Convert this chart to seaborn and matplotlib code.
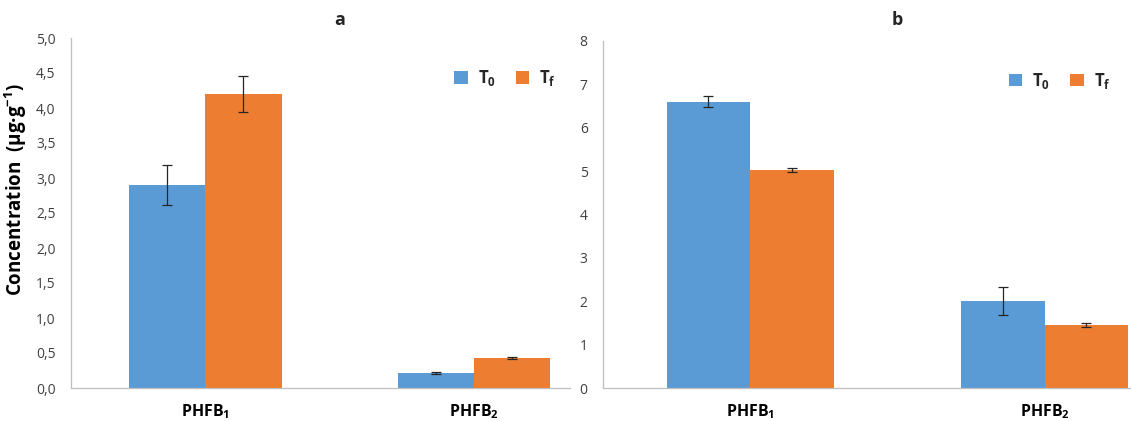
import matplotlib
matplotlib.use("Agg")
import matplotlib.pyplot as plt
import seaborn as sns
import pandas as pd

categories = ["PHFB$_\\mathbf{1}$", "PHFB$_\\mathbf{2}$"]
series = ["T$_\\mathbf{0}$", "T$_\\mathbf{f}$"]

a_T0 = [2.90, 0.215]
a_Tf = [4.20, 0.43]
a_T0_err = [0.29, 0.02]
a_Tf_err = [0.26, 0.02]

b_T0 = [6.60, 2.00]
b_Tf = [5.02, 1.45]
b_T0_err = [0.13, 0.32]
b_Tf_err = [0.05, 0.05]

a_yticks = [0, 0.5, 1, 1.5, 2, 2.5, 3, 3.5, 4, 4.5, 5]
a_yticklabels = ["0,0", "0,5", "1,0", "1,5", "2,0", "2,5", "3,0", "3,5", "4,0", "4,5", "5,0"]
b_yticks = [0, 1, 2, 3, 4, 5, 6, 7, 8]

colors = ["#5B9BD5", "#ED7D31"]
gray = "#BFBFBF"
tcol = "#404040"

sns.set_theme(style="white")
plt.rcParams["font.family"] = ["Open Sans", "DejaVu Sans"]
plt.rcParams["mathtext.fontset"] = "custom"
plt.rcParams["mathtext.rm"] = "Open Sans"
plt.rcParams["mathtext.bf"] = "Open Sans:bold"

fig = plt.figure(figsize=(11.31, 4.21), dpi=100)

def make_df(t0, tf):
    rows = []
    for c, v in zip(categories, t0):
        rows.append({"cat": c, "ser": series[0], "val": v})
    for c, v in zip(categories, tf):
        rows.append({"cat": c, "ser": series[1], "val": v})
    return pd.DataFrame(rows)

def draw(ax, t0, tf, e0, ef, ylim, yticks, yticklabels, xmax, legend_anchor):
    df = make_df(t0, tf)
    sns.barplot(data=df, x="cat", y="val", hue="ser", palette=colors,
                width=0.567, gap=0, errorbar=None, ax=ax, saturation=1,
                edgecolor="none", linewidth=0)
    errs = [e0, ef]
    vals = [t0, tf]
    bar_conts = list(ax.containers)
    for ci, cont in enumerate(bar_conts):
        xs = [p.get_x() + p.get_width() / 2 for p in cont.patches]
        ax.errorbar(xs, vals[ci], yerr=errs[ci], fmt="none", ecolor="#262626",
                    elinewidth=0.9, capsize=3.5, capthick=0.9, zorder=5)
    ax.set_xlim(-0.5, xmax)
    ax.set_ylim(*ylim)
    ax.set_yticks(yticks)
    ax.set_yticklabels(yticklabels, fontsize=10, color=tcol)
    ax.set_xticks([0, 1])
    ax.set_xticklabels(categories, fontsize=11.5, fontweight="bold", color="black")
    ax.tick_params(axis="x", length=0, pad=10)
    ax.tick_params(axis="y", length=5, width=0.8, color=gray, direction="out", pad=6)
    ax.set_xticks([0.5], minor=True)
    ax.tick_params(axis="x", which="minor", length=6, width=0.8, color=gray, direction="out")
    for s in ["top", "right"]:
        ax.spines[s].set_visible(False)
    for s in ["left", "bottom"]:
        ax.spines[s].set_color(gray)
        ax.spines[s].set_linewidth(0.9)
    ax.set_xlabel("")
    ax.set_ylabel("")
    h, l = ax.get_legend_handles_labels()
    ax.legend(h[:2], l[:2], loc="center", bbox_to_anchor=legend_anchor, ncol=2, frameon=False,
              handlelength=0.8, handleheight=0.8, handletextpad=0.6, columnspacing=1.2,
              prop={"weight": "bold", "size": 12})

ax1 = fig.add_axes([71 / 1131, 33 / 421, 499 / 1131, 350 / 421])
ax2 = fig.add_axes([603 / 1131, 33 / 421, 528 / 1131, 347 / 421])

draw(ax1, a_T0, a_Tf, a_T0_err, a_Tf_err, (0, 5.0), a_yticks, a_yticklabels,
     1.357, (0.87, 0.885))
draw(ax2, b_T0, b_Tf, b_T0_err, b_Tf_err, (0, 8.0), b_yticks, [str(t) for t in b_yticks],
     1.293, (0.865, 0.885))

ax1.set_ylabel("Concentration  (µg·g$^{\\mathbf{-1}}$)", fontsize=13.5, fontweight="bold",
               color="black")
ax1.yaxis.set_label_coords(-0.084, 0.566)

fig.text(340 / 1131, 1 - 20 / 421, "a", ha="center", va="center", fontsize=13, fontweight="bold")
fig.text(897 / 1131, 1 - 20 / 421, "b", ha="center", va="center", fontsize=13, fontweight="bold")

fig.savefig("out.png", dpi=100)
